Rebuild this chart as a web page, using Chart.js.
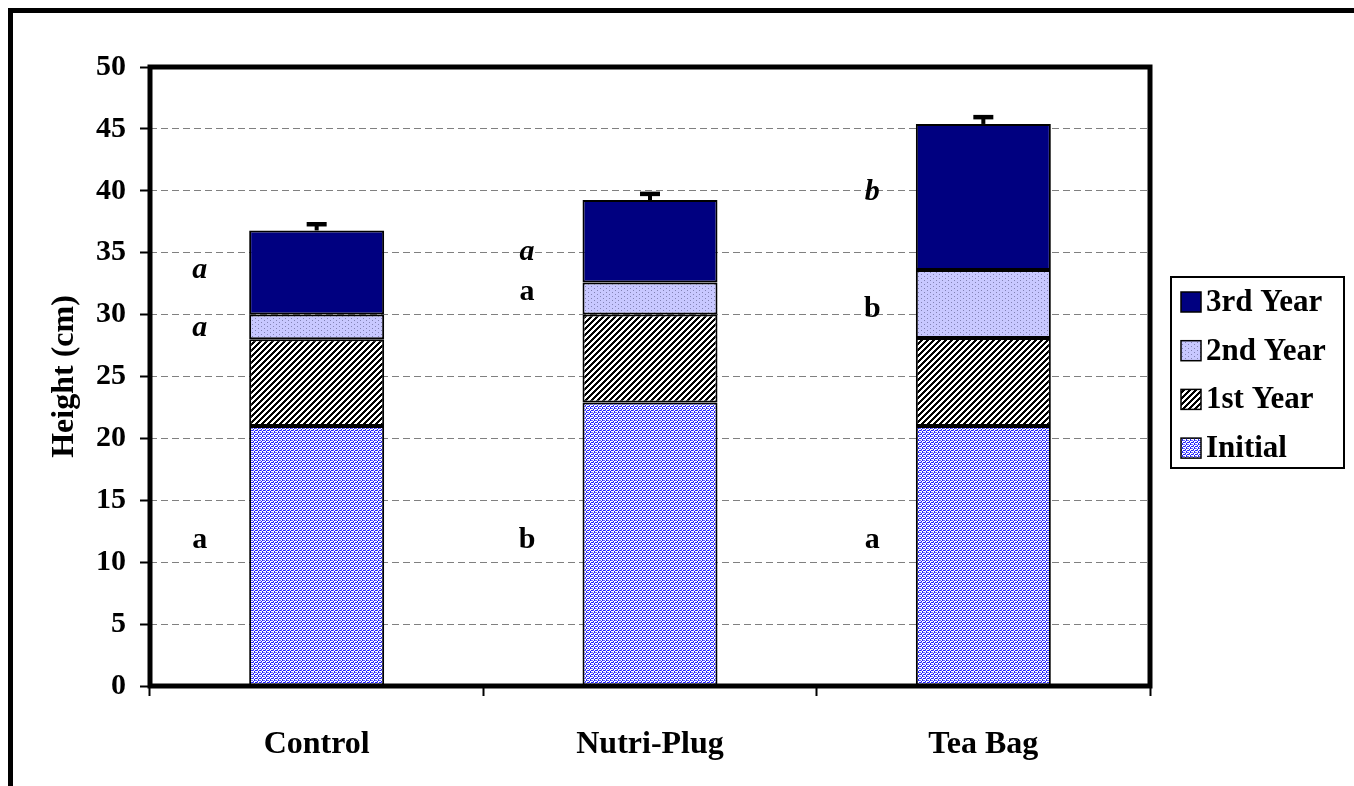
<!DOCTYPE html>
<html>
<head>
<meta charset="utf-8">
<script src="https://cdn.jsdelivr.net/npm/chart.js@4.4.1/dist/chart.umd.min.js"></script>
<style>
  html, body { margin: 0; padding: 0; background: #fff; }
  #wrap { width: 1354px; height: 786px; }
</style>
</head>
<body>
<div id="wrap"><canvas id="chart" width="1354" height="786"></canvas></div>
<script>
  const categories = ['Control', 'Nutri-Plug', 'Tea Bag'];
  const initialHeight = [21, 22.9, 21];
  const firstYear = [7, 7.1, 7.1];
  const secondYear = [2, 2.6, 5.5];
  const thirdYear = [6.8, 6.65, 11.8];
  const errorUp = [0.5, 0.5, 0.55];

  const yMin = 0;
  const yMax = 50;
  const yStep = 5;

  // significance letters next to the bars
  const letterCat = [0, 0, 0, 1, 1, 1, 2, 2, 2];
  const letterY = [11.8, 28.9, 33.6, 11.8, 31.8, 35.0, 11.8, 30.4, 39.9];
  const letterText = ['a', 'a', 'a', 'b', 'a', 'a', 'a', 'b', 'b'];
  const letterItalic = [false, true, true, false, false, true, false, false, true];
  const letterShift = [-117, -123, -111];

  const FONT = "'Liberation Serif', 'Times New Roman', serif";
  const canvas = document.getElementById('chart');
  const ctx = canvas.getContext('2d');

  function makePattern(w, h, paint) {
    const tile = document.createElement('canvas');
    tile.width = w;
    tile.height = h;
    const t = tile.getContext('2d');
    paint(t);
    return ctx.createPattern(tile, 'repeat');
  }

  const initialFill = makePattern(4, 4, (t) => {
    t.fillStyle = '#ffffff';
    t.fillRect(0, 0, 4, 4);
    const rows = ['BWBB', 'WBWW', 'BBWB', 'WWBW'];
    rows.forEach((row, y) => {
      for (let x = 0; x < 4; x++) {
        if (row[x] === 'B') {
          t.fillStyle = (x + y) % 3 === 0 ? '#6a6aff' : '#1e1eff';
          t.fillRect(x, y, 1, 1);
        }
      }
    });
  });

  const firstFill = makePattern(6, 6, (t) => {
    for (let y = 0; y < 6; y++) {
      for (let x = 0; x < 6; x++) {
        t.fillStyle = (x + y) % 6 < 3 ? '#000000' : '#ffffff';
        t.fillRect(x, y, 1, 1);
      }
    }
  });

  const secondFill = makePattern(6, 4, (t) => {
    t.fillStyle = '#c8c8ff';
    t.fillRect(0, 0, 6, 4);
    t.fillStyle = '#8282b4';
    t.fillRect(0, 0, 1, 1);
    t.fillRect(3, 2, 1, 1);
  });

  const thirdFill = '#000080';

  const framePlugin = {
    id: 'frame',
    afterDatasetsDraw(chart) {
      const c = chart.ctx;
      const x = chart.scales.x;
      const y = chart.scales.y;
      c.save();
      c.strokeStyle = '#000';
      c.fillStyle = '#000';
      categories.forEach((cat, i) => {
        const total = initialHeight[i] + firstYear[i] + secondYear[i] + thirdYear[i];
        const px = x.getPixelForValue(i);
        const y1 = y.getPixelForValue(total);
        const y2 = y.getPixelForValue(total + errorUp[i]);
        c.lineWidth = 4;
        c.beginPath();
        c.moveTo(px, y1);
        c.lineTo(px, y2);
        c.stroke();
        c.lineWidth = 4.5;
        c.beginPath();
        c.moveTo(px - 10, y2);
        c.lineTo(px + 10, y2);
        c.stroke();
      });
      c.textAlign = 'center';
      c.textBaseline = 'middle';
      letterText.forEach((txt, k) => {
        const ci = letterCat[k];
        c.font = (letterItalic[k] ? 'italic ' : '') + 'bold 30px ' + FONT;
        c.fillText(txt, x.getPixelForValue(ci) + letterShift[ci], y.getPixelForValue(letterY[k]));
      });
      c.restore();
    },
    afterDraw(chart) {
      const c = chart.ctx;
      const a = chart.chartArea;
      c.save();
      c.strokeStyle = '#000';
      c.lineWidth = 5;
      c.strokeRect(a.left, a.top, a.right - a.left, a.bottom - a.top);
      // outer frame (left and top edges)
      c.beginPath();
      c.moveTo(10.5, 786);
      c.lineTo(10.5, 10.5);
      c.lineTo(1354, 10.5);
      c.stroke();

      // legend
      const lx = 1171, ly = 277, lw = 173, lh = 191;
      c.lineWidth = 2;
      c.strokeRect(lx, ly, lw, lh);
      const items = chart.data.datasets.slice().reverse();
      c.font = 'bold 31px ' + FONT;
      c.textAlign = 'left';
      c.textBaseline = 'middle';
      items.forEach((ds, k) => {
        const cy = 302 + k * 48.7;
        c.fillStyle = ds.backgroundColor;
        c.fillRect(1181, cy - 10, 20, 20);
        c.lineWidth = 1.5;
        c.strokeRect(1181, cy - 10, 20, 20);
        c.fillStyle = '#000';
        c.fillText(ds.label, 1206, cy + 1);
      });
      c.restore();
    }
  };

  function series(label, data, fill) {
    return {
      label,
      data,
      backgroundColor: fill,
      borderColor: '#000000',
      borderWidth: 2,
      borderSkipped: false,
      barPercentage: 0.405,
      categoryPercentage: 1.0
    };
  }

  new Chart(canvas, {
    type: 'bar',
    data: {
      labels: categories,
      datasets: [
        series('Initial', initialHeight, initialFill),
        series('1st Year', firstYear, firstFill),
        series('2nd Year', secondYear, secondFill),
        series('3rd Year', thirdYear, thirdFill)
      ]
    },
    options: {
      responsive: false,
      animation: false,
      devicePixelRatio: 1,
      layout: { padding: { left: 0, top: 67, right: 204, bottom: 0 } },
      plugins: {
        legend: { display: false },
        tooltip: { enabled: false }
      },
      scales: {
        x: {
          stacked: true,
          grid: {
            offset: true,
            drawOnChartArea: false,
            drawTicks: true,
            tickLength: 10,
            tickWidth: 2,
            tickColor: '#000'
          },
          border: { display: false },
          ticks: {
            color: '#000',
            font: { family: FONT, size: 32, weight: 'bold' },
            padding: 30
          },
          afterFit(scale) { scale.height = 100; }
        },
        y: {
          stacked: true,
          min: yMin,
          max: yMax,
          ticks: {
            stepSize: yStep,
            color: '#000',
            font: { family: FONT, size: 30, weight: 'bold' },
            padding: 14
          },
          grid: {
            color: '#808080',
            lineWidth: 1,
            tickColor: '#000',
            tickLength: 10,
            tickWidth: 2,
            tickBorderDash: []
          },
          border: { display: false, dash: [7, 4] },
          title: {
            display: true,
            text: 'Height (cm)',
            color: '#000',
            font: { family: FONT, size: 32, weight: 'bold' },
            padding: { top: 46, bottom: 0 }
          },
          afterFit(scale) { scale.width = 150; }
        }
      }
    },
    plugins: [framePlugin]
  });
</script>
</body>
</html>
